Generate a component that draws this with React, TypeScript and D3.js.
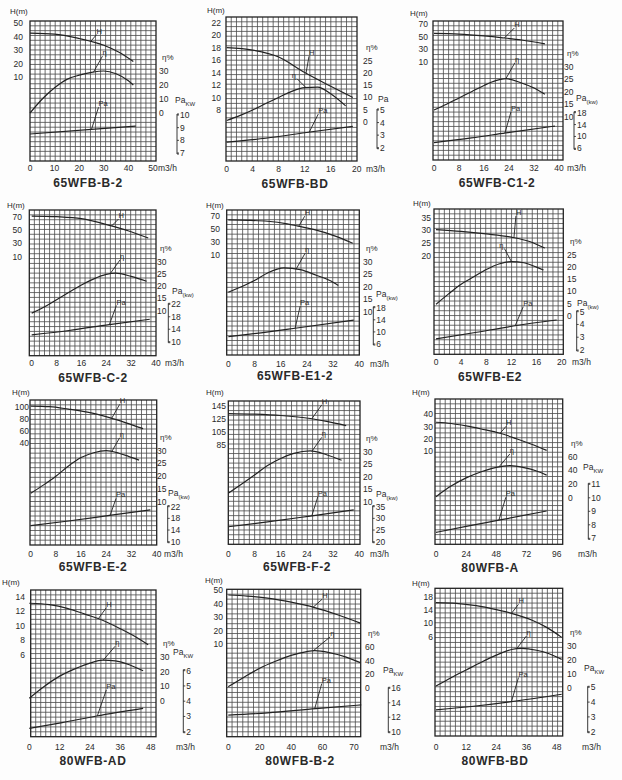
import React from 'react';
import * as d3 from 'd3';

type Pt = [number, number];

// ---------- data (flow m3/h, value) ----------
// 65WFB-B-2
const b2H: Pt[] = [[0, 42.5], [10, 41.8], [20, 38.5], [30, 33.5], [36, 28.5], [42, 21.5]];
const b2Eff: Pt[] = [[0, 0], [5, 10], [10, 18], [15, 24], [20, 27], [25, 29], [30, 30], [35, 28], [40, 23], [42, 20]];
const b2Pa: Pt[] = [[0, 8.5], [25, 8.87], [43, 9.13]];
// 65WFB-BD
const bdH: Pt[] = [[0, 18], [4, 17.6], [8, 16.5], [12, 14], [16, 11.8], [19.4, 10]];
const bdEff: Pt[] = [[0, 0.5], [2, 2.5], [4, 4.8], [6, 7.5], [8, 10], [10, 12.5], [12, 14], [14, 14.2], [16, 11.5], [18.3, 6.5]];
const bdPa: Pt[] = [[0, 2.45], [6, 2.75], [12.8, 3.25], [19.4, 3.7]];
// 65WFB-C1-2
const c12H: Pt[] = [[0, 55], [8, 54], [16, 51], [22, 48], [28, 44.5], [35.5, 38.5]];
const c12Eff: Pt[] = [[0, 12.7], [4, 15], [8, 17.5], [12, 20], [16, 22.5], [20, 24.5], [23, 25.2], [28, 23.5], [32, 21.5], [35.5, 19]];
const c12Pa: Pt[] = [[0, 7.9], [12, 9.5], [23, 11.2], [38.7, 13.5]];
// 65WFB-C-2
const c2H: Pt[] = [[0, 71], [8, 70], [16, 67], [25, 57], [31, 49], [37.5, 38]];
const c2Eff: Pt[] = [[0, 9], [4, 11.5], [8, 14.5], [12, 17.5], [16, 20.5], [20, 23], [24, 24.8], [27, 25.3], [32, 24], [37, 22]];
const c2Pa: Pt[] = [[0, 12.2], [12, 13.6], [25, 15.5], [38, 17.2]];
// 65WFB-E1-2
const e12H: Pt[] = [[0, 63.5], [6, 63], [12, 61.5], [18, 57.5], [21, 54.5], [26, 49], [32, 40], [38, 28]];
const e12Eff: Pt[] = [[0, 17.8], [4, 20], [8, 22.5], [12, 25.5], [17, 27.5], [22, 26.8], [27, 24.5], [31, 22.5], [33.6, 20.5]];
const e12Pa: Pt[] = [[0, 8.4], [10, 9.7], [20.4, 11.2], [38.3, 13.9]];
// 65WFB-E2
const e2H: Pt[] = [[0, 30.3], [4, 29.6], [8, 28.6], [12, 27.3], [15, 25.5], [17.3, 23]];
const e2Eff: Pt[] = [[0, 4.7], [2, 9], [4, 13], [6, 16], [8, 19], [10, 21.3], [12, 22.3], [14, 21.8], [16, 20], [17.1, 18.8]];
const e2Pa: Pt[] = [[0, 2.87], [6, 3.35], [12.3, 3.88], [19.2, 4.35]];
// 65WFB-E-2
const eH: Pt[] = [[0, 101], [6, 100], [12, 96], [18, 91], [25, 82], [30, 74], [35.7, 64]];
const eEff: Pt[] = [[0, 13.3], [4, 16.5], [8, 20], [12, 24], [16, 27.3], [20, 29.2], [24, 30], [28, 29], [31, 27.8], [34.4, 26.3]];
const ePa: Pt[] = [[0, 15.5], [12, 17.1], [25, 19], [38, 20.9]];
// 65WFB-F-2
const fH: Pt[] = [[0, 133], [8, 132], [16, 130], [25, 125.5], [30, 121], [36, 114.5]];
const fEff: Pt[] = [[0, 13.4], [4, 17], [8, 20.7], [12, 24.5], [16, 27.3], [20, 29.3], [25, 30.3], [30, 28.8], [34.6, 26.6]];
const fPa: Pt[] = [[0, 26.4], [12, 28.5], [25, 31], [38.3, 33.6]];
// 80WFB-A
const aH: Pt[] = [[0, 33.5], [12, 32.5], [24, 30.5], [36, 28], [51, 24.5], [64, 20], [76, 15.5], [88, 10.5]];
const aEff: Pt[] = [[0, 1.5], [12, 17], [24, 29], [36, 38], [48, 44.5], [59, 47], [70, 44], [80, 39], [88, 33]];
const aPa: Pt[] = [[0, 7.44], [25, 7.9], [51, 8.36], [88, 9.02]];
// 80WFB-AD
const adH: Pt[] = [[0, 13.1], [8, 12.9], [15, 12.4], [22, 11.6], [28, 10.9], [36, 9.6], [42, 8.5], [47, 7.4]];
const adEff: Pt[] = [[0, 1.7], [6, 10], [12, 17], [18, 22], [24, 26], [29, 28], [34, 27.5], [40, 24.5], [45, 20.7]];
const adPa: Pt[] = [[0, 2.22], [13, 2.6], [26.6, 3.03], [45, 3.53]];
// 80WFB-B-2
const b80H: Pt[] = [[0, 46.3], [12, 45.5], [25, 44], [40, 41], [55, 37], [70, 31.5], [84, 25.5]];
const b80Eff: Pt[] = [[0, 2.3], [10, 16], [20, 29], [30, 39], [40, 47.5], [50, 53], [55, 54.2], [65, 51], [75, 45], [84, 37]];
const b80Pa: Pt[] = [[0, 12.3], [25, 12.6], [55.7, 13.2], [84.6, 13.7]];
// 80WFB-BD
const bd80H: Pt[] = [[0, 16.2], [8, 16], [16, 15.3], [24, 14.1], [30, 13], [38, 11], [44, 8.8], [50, 5.8]];
const bd80Eff: Pt[] = [[0, 1.6], [6, 7.5], [12, 13], [18, 18.5], [24, 23.5], [30, 27.5], [34, 28.3], [40, 27], [45, 24.5], [50, 20.5]];
const bd80Pa: Pt[] = [[0, 3.47], [15, 3.72], [30, 4.03], [50, 4.53]];

// ---------- tick values ----------
const ticks40 = [0, 8, 16, 24, 32, 40];
const ticks20 = [0, 4, 8, 12, 16, 20];
const ticks48 = [0, 12, 24, 36, 48];
const effTicks1030 = [10, 15, 20, 25, 30];
const effTicks025 = [0, 5, 10, 15, 20, 25];
const hTicks1070 = [10, 30, 50, 70];

type Callout = { s: 'H' | 'E' | 'P'; q: number; dx: number; dy: number };
interface PanelCfg {
  title: string; titlePos: [number, number];
  grid: [number, number, number, number];
  xDom: [number, number]; xPx: [number, number]; xTicks: number[]; xLabels?: string[]; xLabelY: number; unitX: number;
  hDom: [number, number]; hPx: [number, number]; hTicks: number[]; hLabelX: number; hTitle: [number, number];
  eDom: [number, number]; ePx: [number, number]; eTicks: number[]; eLabelX: number;
  pDom: [number, number]; pPx: [number, number]; pTicks: number[]; bracketX: number; paTitle: [number, number]; paSub: string;
  H: Pt[]; E: Pt[]; P: Pt[];
  callouts: Callout[];
}

const panels: PanelCfg[] = [
  {
    title: '65WFB-B-2', titlePos: [88, 187], grid: [30, 21, 156, 161],
    xDom: [0, 50], xPx: [30, 153], xTicks: [0, 10, 20, 30, 40, 50], xLabelY: 171, unitX: 158,
    hDom: [10, 50], hPx: [77, 23], hTicks: [10, 20, 30, 40, 50], hLabelX: 23, hTitle: [10, 14],
    eDom: [0, 30], ePx: [113, 71], eTicks: [0, 10, 20, 30], eLabelX: 159,
    pDom: [7, 10], pPx: [153, 115], pTicks: [7, 8, 9, 10], bracketX: 177, paTitle: [175, 103], paSub: 'KW',
    H: b2H, E: b2Eff, P: b2Pa,
    callouts: [{ s: 'H', q: 24.6, dx: 6, dy: -7 }, { s: 'E', q: 25.8, dx: 9, dy: -16 }, { s: 'P', q: 25, dx: 7, dy: -22 }],
  },
  {
    title: '65WFB-BD', titlePos: [295, 188], grid: [226, 17, 357, 161],
    xDom: [0, 20], xPx: [226.7, 356.7], xTicks: ticks20, xLabelY: 172, unitX: 366,
    hDom: [8, 22], hPx: [110, 22.7], hTicks: [8, 10, 12, 14, 16, 18, 20, 22], hLabelX: 221, hTitle: [207, 13],
    eDom: [0, 25], ePx: [121.7, 61], eTicks: effTicks025, eLabelX: 363,
    pDom: [2, 5], pPx: [147.7, 110], pTicks: [2, 3, 4, 5], bracketX: 377, paTitle: [378, 102], paSub: '',
    H: bdH, E: bdEff, P: bdPa,
    callouts: [{ s: 'H', q: 12.2, dx: 3, dy: -17 }, { s: 'E', q: 12.2, dx: -9, dy: -9 }, { s: 'P', q: 12.7, dx: 9, dy: -18 }],
  },
  {
    title: '65WFB-C1-2', titlePos: [497, 187], grid: [433, 21, 563, 160],
    xDom: [0, 40], xPx: [434, 559], xTicks: ticks40, xLabelY: 171, unitX: 567,
    hDom: [10, 70], hPx: [61.7, 24], hTicks: hTicks1070, hLabelX: 428, hTitle: [410, 16],
    eDom: [10, 30], ePx: [116.7, 66.7], eTicks: effTicks1030, eLabelX: 564,
    pDom: [6, 18], pPx: [148.3, 112.7], pTicks: [6, 10, 14, 18], bracketX: 574, paTitle: [576, 101], paSub: '(kw)',
    H: c12H, E: c12Eff, P: c12Pa,
    callouts: [{ s: 'H', q: 22.5, dx: 10, dy: -10 }, { s: 'E', q: 23, dx: 9, dy: -16 }, { s: 'P', q: 22.7, dx: 6, dy: -21 }],
  },
  {
    title: '65WFB-C-2', titlePos: [93, 382], grid: [29.3, 210, 156, 355.7],
    xDom: [0, 40], xPx: [31.7, 156], xTicks: ticks40, xLabelY: 366, unitX: 165,
    hDom: [10, 70], hPx: [256.7, 216.7], hTicks: hTicks1070, hLabelX: 22, hTitle: [7, 208],
    eDom: [10, 30], ePx: [310.7, 261.7], eTicks: effTicks1030, eLabelX: 157,
    pDom: [10, 22], pPx: [341.7, 304.3], pTicks: [10, 14, 18, 22], bracketX: 168.3, paTitle: [172, 294], paSub: '(kw)',
    H: c2H, E: c2Eff, P: c2Pa,
    callouts: [{ s: 'H', q: 25.7, dx: 7, dy: -7 }, { s: 'E', q: 25.2, dx: 10, dy: -14 }, { s: 'P', q: 25, dx: 7, dy: -19 }],
  },
  {
    title: '65WFB-E1-2', titlePos: [295, 380], grid: [226.7, 210, 359.3, 355],
    xDom: [0, 40], xPx: [228.3, 359.3], xTicks: ticks40, xLabelY: 366.5, unitX: 370,
    hDom: [10, 70], hPx: [255, 215.7], hTicks: hTicks1070, hLabelX: 220, hTitle: [206, 208],
    eDom: [10, 30], ePx: [311.7, 261.7], eTicks: effTicks1030, eLabelX: 363,
    pDom: [6, 18], pPx: [344, 307.7], pTicks: [6, 10, 14, 18], bracketX: 373.3, paTitle: [376, 297], paSub: '(kw)',
    H: e12H, E: e12Eff, P: e12Pa,
    callouts: [{ s: 'H', q: 21.5, dx: 6, dy: -10 }, { s: 'E', q: 20.7, dx: 9, dy: -16 }, { s: 'P', q: 20.4, dx: 5, dy: -22 }],
  },
  {
    title: '65WFB-E2', titlePos: [490, 381], grid: [434, 209, 563.3, 354.3],
    xDom: [0, 20], xPx: [436, 561.7], xTicks: ticks20, xLabelY: 365, unitX: 572,
    hDom: [20, 35], hPx: [255.7, 217.7], hTicks: [20, 25, 30, 35], hLabelX: 431, hTitle: [413, 206],
    eDom: [0, 25], ePx: [315.7, 255], eTicks: effTicks025, eLabelX: 567,
    pDom: [2, 5], pPx: [350, 311.7], pTicks: [2, 3, 4, 5], bracketX: 576.7, paTitle: [577, 306], paSub: '(kw)',
    H: e2H, E: e2Eff, P: e2Pa,
    callouts: [{ s: 'H', q: 12.4, dx: 2, dy: -22 }, { s: 'E', q: 12, dx: -7, dy: -13 }, { s: 'P', q: 12.6, dx: 8, dy: -19 }],
  },
  {
    title: '65WFB-E-2', titlePos: [93, 571], grid: [30, 400, 156.7, 545],
    xDom: [0, 40], xPx: [30.7, 156.7], xTicks: ticks40, xLabelY: 556.5, unitX: 164,
    hDom: [40, 100], hPx: [443.3, 406.7], hTicks: [40, 60, 80, 100], hLabelX: 29, hTitle: [12, 395],
    eDom: [10, 30], ePx: [501.7, 450.7], eTicks: effTicks1030, eLabelX: 157,
    pDom: [10, 22], pPx: [541.7, 506.7], pTicks: [10, 14, 18, 22], bracketX: 167.7, paTitle: [168, 496], paSub: '(kw)',
    H: eH, E: eEff, P: ePa,
    callouts: [{ s: 'H', q: 25.7, dx: 8, dy: -14 }, { s: 'E', q: 25.7, dx: 8, dy: -14 }, { s: 'P', q: 25.2, dx: 6, dy: -17 }],
  },
  {
    title: '65WFB-F-2', titlePos: [297, 571], grid: [228.3, 401, 360, 544.3],
    xDom: [0, 40], xPx: [228.3, 359.3], xTicks: ticks40, xLabelY: 556.5, unitX: 370,
    hDom: [85, 145], hPx: [445, 405.7], hTicks: [85, 105, 125, 145], hLabelX: 226, hTitle: [206, 395],
    eDom: [10, 30], ePx: [501.7, 451.7], eTicks: effTicks1030, eLabelX: 363,
    pDom: [20, 35], pPx: [541.7, 506.7], pTicks: [20, 25, 30, 35], bracketX: 372.7, paTitle: [376, 497], paSub: '(kw)',
    H: fH, E: fEff, P: fPa,
    callouts: [{ s: 'H', q: 25.5, dx: 10, dy: -14 }, { s: 'E', q: 25.5, dx: 10, dy: -14 }, { s: 'P', q: 25.5, dx: 6, dy: -19 }],
  },
  {
    title: '80WFB-A', titlePos: [490, 572], grid: [435, 399, 562.7, 544.3],
    xDom: [0, 96], xPx: [436, 556.7], xTicks: [0, 24, 48, 72, 96], xLabelY: 556.5, unitX: 578,
    hDom: [10, 40], hPx: [451, 414.3], hTicks: [10, 20, 30, 40], hLabelX: 433, hTitle: [412, 395],
    eDom: [0, 60], ePx: [497.7, 456.7], eTicks: [0, 20, 40, 60], eLabelX: 568,
    pDom: [7, 11], pPx: [538.3, 484.3], pTicks: [7, 8, 9, 10, 11], bracketX: 588.3, paTitle: [583, 470], paSub: 'KW',
    H: aH, E: aEff, P: aPa,
    callouts: [{ s: 'H', q: 51, dx: 6, dy: -7 }, { s: 'E', q: 50, dx: 11, dy: -13 }, { s: 'P', q: 50, dx: 7, dy: -23 }],
  },
  {
    title: '80WFB-AD', titlePos: [93, 765], grid: [30.7, 590, 156, 736.7],
    xDom: [0, 48], xPx: [29.3, 150.7], xTicks: ticks48, xLabelY: 750, unitX: 176,
    hDom: [6, 14], hPx: [655, 596.7], hTicks: [6, 8, 10, 12, 14], hLabelX: 25, hTitle: [2, 585],
    eDom: [0, 30], ePx: [700.7, 657.3], eTicks: [0, 10, 20, 30], eLabelX: 160,
    pDom: [2, 6], pPx: [731.7, 670.7], pTicks: [2, 3, 4, 5, 6], bracketX: 183.3, paTitle: [173, 655], paSub: 'KW',
    H: adH, E: adEff, P: adPa,
    callouts: [{ s: 'H', q: 27.3, dx: 8, dy: -11 }, { s: 'E', q: 29.2, dx: 12, dy: -14 }, { s: 'P', q: 26.9, dx: 9, dy: -26 }],
  },
  {
    title: '80WFB-B-2', titlePos: [300, 765], grid: [226.7, 589.3, 360.7, 736.7],
    xDom: [0, 80], xPx: [228.3, 354], xTicks: [0, 20, 40, 60, 80], xLabels: ['0', '20', '40', '60', '70'], xLabelY: 750, unitX: 380,
    hDom: [10, 50], hPx: [644, 590], hTicks: [10, 20, 30, 40, 50], hLabelX: 223, hTitle: [205, 583],
    eDom: [0, 60], ePx: [688.3, 646.7], eTicks: [0, 20, 40, 60], eLabelX: 365,
    pDom: [10, 16], pPx: [731.7, 688.3], pTicks: [10, 12, 14, 16], bracketX: 388.3, paTitle: [383, 673], paSub: 'KW',
    H: b80H, E: b80Eff, P: b80Pa,
    callouts: [{ s: 'H', q: 54, dx: 9, dy: -8 }, { s: 'E', q: 54, dx: 17, dy: -14 }, { s: 'P', q: 55, dx: 7, dy: -25 }],
  },
  {
    title: '80WFB-BD', titlePos: [495, 765], grid: [435, 588.3, 562.7, 736],
    xDom: [0, 48], xPx: [436, 556.7], xTicks: ticks48, xLabelY: 750, unitX: 582,
    hDom: [6, 18], hPx: [636.7, 596.7], hTicks: [6, 10, 14, 18], hLabelX: 433, hTitle: [412, 586],
    eDom: [0, 30], ePx: [688.3, 646], eTicks: [0, 10, 20, 30], eLabelX: 567,
    pDom: [2, 5], pPx: [731.7, 687.3], pTicks: [2, 3, 4, 5], bracketX: 587.7, paTitle: [584, 671], paSub: 'KW',
    H: bd80H, E: bd80Eff, P: bd80Pa,
    callouts: [{ s: 'H', q: 30, dx: 7, dy: -9 }, { s: 'E', q: 32, dx: 10, dy: -13 }, { s: 'P', q: 30, dx: 7, dy: -24 }],
  },
];

const FONT = '"Liberation Sans", Arial, sans-serif';
const INK = '#2a2a2a';

function Panel({ c }: { c: PanelCfg }) {
  const [gx0, gy0, gx1, gy1] = c.grid;
  const x = d3.scaleLinear().domain(c.xDom).range(c.xPx);
  const yH = d3.scaleLinear().domain(c.hDom).range(c.hPx);
  const yE = d3.scaleLinear().domain(c.eDom).range(c.ePx);
  const yP = d3.scaleLinear().domain(c.pDom).range(c.pPx);
  const w = gx1 - gx0, h = gy1 - gy0;
  const nCols = 25, nRows = Math.round(h / 4.85);
  const cols = d3.range(1, nCols).map((i) => gx0 + (i * w) / nCols);
  const rows = d3.range(1, nRows).map((j) => gy0 + (j * h) / nRows);

  const mk = (ys: d3.ScaleLinear<number, number>) =>
    d3.line<Pt>().x((d) => x(d[0])).y((d) => ys(d[1])).curve(d3.curveMonotoneX);
  const series = { H: { data: c.H, y: yH, label: 'H' }, E: { data: c.E, y: yE, label: 'η' }, P: { data: c.P, y: yP, label: 'Pa' } };

  const pTop = yP(c.pDom[1]), pBot = yP(c.pDom[0]);
  const eTopY = yE(c.eDom[1]);

  return (
    <g>
      <rect x={gx0} y={gy0} width={w} height={h} fill="#fff" />
      {cols.map((cx, i) => (
        <line key={'c' + i} x1={cx} x2={cx} y1={gy0} y2={gy1} stroke="#4a4a4a" strokeWidth={0.8} />
      ))}
      {rows.map((ry, i) => (
        <line key={'r' + i} x1={gx0} x2={gx1} y1={ry} y2={ry} stroke="#4a4a4a" strokeWidth={0.8} />
      ))}
      <rect x={gx0} y={gy0} width={w} height={h} fill="none" stroke="#222" strokeWidth={1.3} />

      {(['H', 'E', 'P'] as const).map((k) => (
        <path key={k} d={mk(series[k].y)(series[k].data) || ''} fill="none" stroke="#222" strokeWidth={1.2} />
      ))}

      {c.callouts.map((co, i) => {
        const s = series[co.s];
        const interp = d3.scaleLinear().domain(s.data.map((d) => d[0])).range(s.data.map((d) => d[1]));
        const px = x(co.q), py = s.y(interp(co.q));
        const ex = px + co.dx, ey = py + co.dy;
        return (
          <g key={'co' + i}>
            <line x1={px} y1={py} x2={ex} y2={ey} stroke="#222" strokeWidth={0.9} />
            <text x={ex + (co.dx >= 0 ? 0 : -1)} y={ey - 1} fontSize={7.5} fontFamily={FONT} fill={INK}
              textAnchor={co.dx >= 0 ? 'start' : 'end'}>{s.label}</text>
          </g>
        );
      })}

      {/* H axis */}
      <text x={c.hTitle[0]} y={c.hTitle[1]} fontSize={8} fontFamily={FONT} fill={INK}>H(m)</text>
      {c.hTicks.map((t) => (
        <text key={'h' + t} x={c.hLabelX} y={yH(t) + 3} fontSize={8.5} fontFamily={FONT} fill={INK} textAnchor="end">{t}</text>
      ))}

      {/* efficiency axis */}
      <text x={c.eLabelX + 3} y={eTopY - 11} fontSize={8} fontFamily={FONT} fill={INK}>η%</text>
      {c.eTicks.map((t) => (
        <text key={'e' + t} x={c.eLabelX} y={yE(t) + 3} fontSize={8.5} fontFamily={FONT} fill={INK}>{t}</text>
      ))}

      {/* power bracket axis */}
      <text x={c.paTitle[0]} y={c.paTitle[1]} fontSize={8.5} fontFamily={FONT} fill={INK}>
        Pa
        {c.paSub && <tspan fontSize={6} dy={3}>{c.paSub}</tspan>}
      </text>
      <path d={`M${c.bracketX + 2},${pTop - 1}H${c.bracketX}V${pBot + 1}H${c.bracketX + 2}`} fill="none" stroke="#222" strokeWidth={0.9} />
      {c.pTicks.map((t) => (
        <g key={'p' + t}>
          <line x1={c.bracketX} x2={c.bracketX + 2} y1={yP(t)} y2={yP(t)} stroke="#222" strokeWidth={0.8} />
          <text x={c.bracketX + 3} y={yP(t) + 3} fontSize={8.5} fontFamily={FONT} fill={INK}>{t}</text>
        </g>
      ))}

      {/* x axis */}
      {c.xTicks.map((t, i) => (
        <text key={'x' + t} x={x(t)} y={c.xLabelY} fontSize={8.5} fontFamily={FONT} fill={INK} textAnchor="middle">
          {c.xLabels ? c.xLabels[i] : t}
        </text>
      ))}
      <text x={c.unitX} y={c.xLabelY} fontSize={8.5} fontFamily={FONT} fill={INK}>m3/h</text>

      <text x={c.titlePos[0]} y={c.titlePos[1]} fontSize={12} fontWeight="bold" letterSpacing={0.6}
        fontFamily={FONT} fill={INK} textAnchor="middle">{c.title}</text>
    </g>
  );
}

export default function App() {
  return (
    <svg width={622} height={780} viewBox="0 0 622 780"
      style={{ position: 'absolute', left: 0, top: 0, background: '#fff' }}>
      <rect x={0} y={0} width={622} height={780} fill="#fdfdfd" />
      {panels.map((p) => (
        <Panel key={p.title} c={p} />
      ))}
    </svg>
  );
}
